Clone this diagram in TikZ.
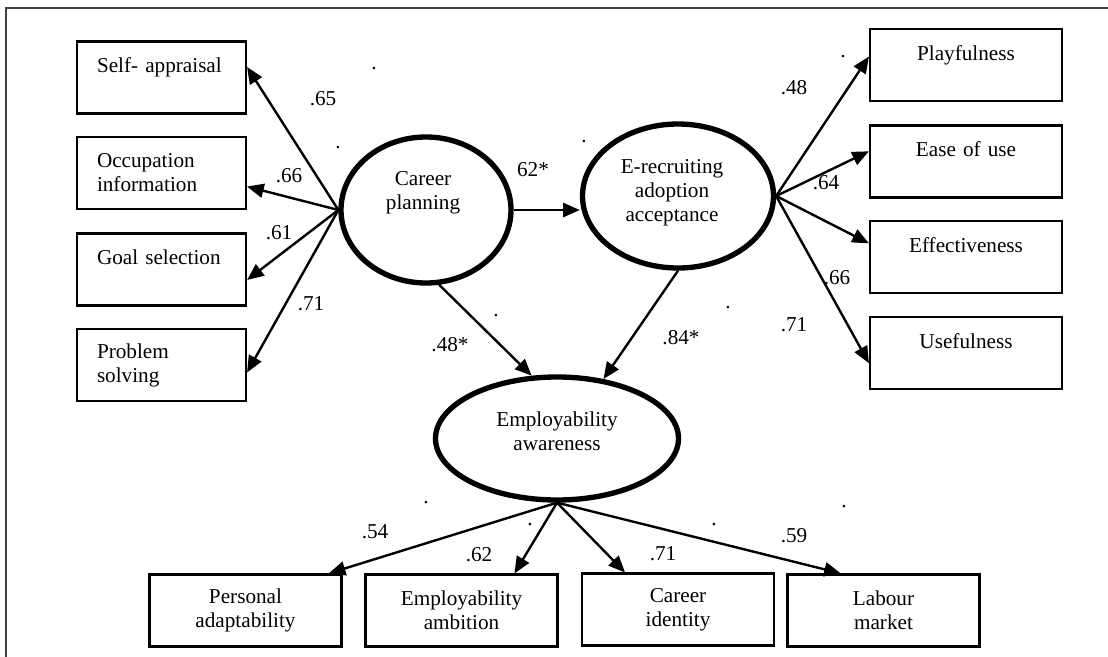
\documentclass[tikz,border=0pt]{standalone}
\usepackage{fontspec}
\setmainfont{Liberation Serif}
\usetikzlibrary{arrows.meta,shapes.geometric}

\begin{document}
\begin{tikzpicture}[x=0.75pt,y=0.75pt,yscale=-1,xscale=1,
  every node/.style={font=\fontsize{15.9}{18}\selectfont},
  leftbox/.style={draw,line width=1.6pt,minimum height=54pt,text width=96.75pt,inner xsep=15pt,align=left},
  rightbox/.style={draw,line width=1.6pt,minimum height=54pt,minimum width=144pt,text width=132pt,align=center},
  latent/.style={draw,ellipse,line width=4pt,inner sep=0pt},
  path/.style={line width=1.8pt,-{Triangle[length=12.5pt,width=10.5pt]}},
  coef/.style={inner sep=0pt}]
			\useasboundingbox (0,0) rectangle (1108,657);
			%Straight Lines [frame]
			\draw [line width=1.6pt,black!75] (1108,8) -- (6,8) -- (6,657) ;
			%Shape: Ellipse [latent variables]
			\node [latent,minimum width=127.5pt,minimum height=109.5pt] (cp) at (426,210) {};
			\node [latent,minimum width=143.25pt,minimum height=108pt] (er) at (678,196) {};
			\node [latent,minimum width=182.25pt,minimum height=92.25pt] (ea) at (557,438.5) {};
			% Text Node
			\node [align=center] (cptxt) at (423,193) {Career\\planning};
			\node [align=center] (ertxt) at (672,193) {E-recruiting\\adoption\\acceptance};
			\node [align=center] (eatxt) at (557,431) {Employability\\awareness};
			%Shape: Rectangle [career planning items]
			\node [leftbox] (self) at (161.5,77.5) {Self- appraisal\\\mbox{}};
			\node [leftbox] (occ) at (161.5,173) {Occupation\\information};
			\node [leftbox] (goal) at (161.5,269.5) {Goal selection\\\mbox{}};
			\node [leftbox] (prob) at (161.5,365) {Problem\\solving};
			%Shape: Rectangle [e-recruiting items]
			\node [rightbox] (play) at (966,65) {Playfulness\\\mbox{}};
			\node [rightbox] (ease) at (966,161.5) {Ease of use\\\mbox{}};
			\node [rightbox] (eff) at (966,257) {Effectiveness\\\mbox{}};
			\node [rightbox] (use) at (966,353) {Usefulness\\\mbox{}};
			%Shape: Rectangle [employability items]
			\node [rightbox] (pa) at (245.5,610.5) {Personal\\adaptability};
			\node [rightbox] (amb) at (461.5,610.5) {Employability\\ambition};
			\node [rightbox] (ci) at (678,609.5) {Career\\identity};
			\node [rightbox] (lm) at (883.5,610.5) {Labour\\market};
			%Straight Lines [loadings]
			\draw [path] (cp.west) -- (self.7) ;
			\draw [path] (cp.west) -- (occ.-9) ;
			\draw [path] (cp.west) -- (goal.-7) ;
			\draw [path] (cp.west) -- (prob.-5) ;
			\draw [path] (er.east) -- (play.175) ;
			\draw [path] (er.east) -- (ease.174) ;
			\draw [path] (er.east) -- (eff.172) ;
			\draw [path] (er.east) -- (use.186) ;
			\draw [path] (ea.south) -- (pa.24) ;
			\draw [path] (ea.south) -- (amb.35) ;
			\draw [path] (ea.south) -- (ci.145) ;
			\draw [path] (ea.south) -- (lm.139) ;
			%Straight Lines [structural paths]
			\draw [path] (cp.east) -- (cp.east -| er.west) ;
			\draw [path] (cp.-80) -- (ea.112) ;
			\draw [path] (er.south) -- (ea.52) ;
			% Text Node
			\node [coef] (l1) at (323,99) {.65};
			\node [coef] (l2) at (289,176) {.66};
			\node [coef] (l3) at (279,233) {.61};
			\node [coef] (l4) at (311,304) {.71};
			\node [coef] (l5) at (533,170) {62*};
			\node [coef] (l6) at (450,345) {.48*};
			\node [coef] (l7) at (681,338) {.84*};
			\node [coef] (l8) at (794,88) {.48};
			\node [coef] (l9) at (826,183) {.64};
			\node [coef] (l10) at (837,278) {.66};
			\node [coef] (l11) at (794,325) {.71};
			\node [coef] (l12) at (375,532) {.54};
			\node [coef] (l13) at (479,555) {.62};
			\node [coef] (l14) at (663,554) {.71};
			\node [coef] (l15) at (794,536) {.59};
			% Text Node [stray dots]
			\node [coef] (d1) at (374,69) {.};
			\node [coef] (d2) at (338,148) {.};
			\node [coef] (d3) at (496,316) {.};
			\node [coef] (d4) at (584,142) {.};
			\node [coef] (d5) at (728,308) {.};
			\node [coef] (d6) at (843,57) {.};
			\node [coef] (d7) at (426,503) {.};
			\node [coef] (d8) at (530,525) {.};
			\node [coef] (d9) at (714,525) {.};
			\node [coef] (d10) at (844,507) {.};
		\end{tikzpicture}
\end{document}
